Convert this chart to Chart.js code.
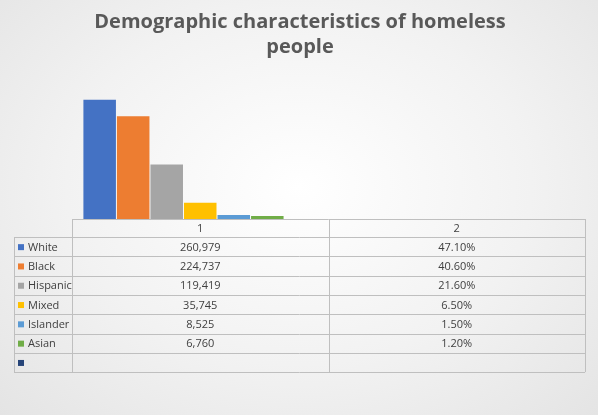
<!DOCTYPE html>
<html>
<head>
<meta charset="utf-8">
<script src="https://cdn.jsdelivr.net/npm/chart.js@4"></script>
<style>
  html, body { margin:0; padding:0; }
  body { width:598px; height:415px; background: radial-gradient(ellipse at 50% 45%, #ffffff 0%, #f2f2f2 55%, #e4e4e4 100%); }
  #wrap { position:relative; width:598px; height:415px; }
</style>
</head>
<body>
<div id="wrap"><canvas id="c" width="598" height="415"></canvas></div>
<script>
// ── Data ───────────────────────────────────────
const categories = ['1', '2'];
const groups = ['White', 'Black', 'Hispanic', 'Mixed', 'Islander', 'Asian', ''];
const counts = [260979, 224737, 119419, 35745, 8525, 6760, null];
const percents = [47.1, 40.6, 21.6, 6.5, 1.5, 1.2, null];
const colors = ['#4472C4', '#ED7D31', '#A5A5A5', '#FFC000', '#5B9BD5', '#70AD47', '#264478'];
const titleLines = ['Demographic characteristics of homeless', 'people'];

const FONT = "'Open Sans', 'Liberation Sans', sans-serif";

// ── Title + data table drawn under the plot ────
const tablePlugin = {
    id: 'tablePlugin',
    afterDraw(chart) {
        const ctx = chart.ctx;
        const area = chart.chartArea;
        const x = chart.scales.x;
        const legendLeft = 14;
        const headTop = area.bottom;
        const headH = 18;
        const rowH = 19.3;
        const tableBottom = headTop + headH + rowH * groups.length;

        ctx.save();
        // title
        ctx.fillStyle = '#595959';
        ctx.font = 'bold 20px ' + FONT;
        ctx.textAlign = 'center';
        ctx.textBaseline = 'middle';
        titleLines.forEach((t, i) => ctx.fillText(t, 300, 22 + i * 25));

        // grid lines
        ctx.strokeStyle = '#bfbfbf';
        ctx.lineWidth = 1;
        ctx.beginPath();
        ctx.moveTo(area.left, headTop + 0.5); ctx.lineTo(area.right, headTop + 0.5);
        for (let r = 0; r <= groups.length; r++) {
            const y = Math.round(headTop + headH + r * rowH) + 0.5;
            ctx.moveTo(legendLeft, y); ctx.lineTo(area.right, y);
        }
        const colEdges = [area.left];
        categories.forEach((c, i) => colEdges.push(area.left + (area.right - area.left) * (i + 1) / categories.length));
        colEdges.forEach(cx => {
            const xx = Math.round(cx) + 0.5;
            ctx.moveTo(xx, headTop); ctx.lineTo(xx, tableBottom);
        });
        ctx.moveTo(legendLeft + 0.5, headTop + headH); ctx.lineTo(legendLeft + 0.5, tableBottom);
        ctx.stroke();

        // header
        ctx.fillStyle = '#404040';
        ctx.font = '11px ' + FONT;
        categories.forEach((c, i) => ctx.fillText(c, x.getPixelForValue(i), headTop + headH / 2 + 1));

        // rows
        groups.forEach((g, r) => {
            const cy = headTop + headH + rowH * r + rowH / 2 + 1;
            ctx.fillStyle = colors[r];
            ctx.fillRect(legendLeft + 4, cy - 3.5, 6, 6);
            ctx.fillStyle = '#404040';
            ctx.textAlign = 'left';
            ctx.fillText(g, legendLeft + 14, cy);
            ctx.textAlign = 'center';
            if (counts[r] != null) ctx.fillText(counts[r].toLocaleString('en-US'), x.getPixelForValue(0), cy);
            if (percents[r] != null) ctx.fillText(percents[r].toFixed(2) + '%', x.getPixelForValue(1), cy);
        });
        ctx.restore();
    }
};

new Chart(document.getElementById('c'), {
    type: 'bar',
    data: {
        labels: categories,
        datasets: groups.map((g, i) => ({
            label: g,
            data: [counts[i], percents[i]],
            backgroundColor: colors[i],
            borderWidth: 0,
            barPercentage: 0.97,
            categoryPercentage: 0.915
        }))
    },
    options: {
        responsive: false,
        animation: false,
        devicePixelRatio: 1,
        layout: { padding: { top: 82, left: 72, right: 13, bottom: 196 } },
        plugins: { legend: { display: false }, title: { display: false }, tooltip: { enabled: false } },
        scales: {
            x: { display: false, grid: { display: false } },
            y: { display: false, min: 0, max: 300000, grid: { display: false } }
        }
    },
    plugins: [tablePlugin]
});
</script>
</body>
</html>
